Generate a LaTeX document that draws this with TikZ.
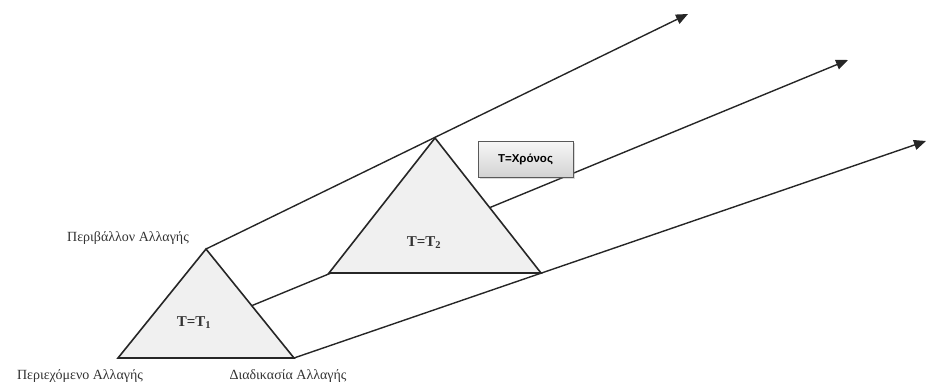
\documentclass[tikz,border=0pt]{standalone}
\usepackage{fontspec}
\setmainfont{Liberation Serif}
\newfontfamily\boxfont{Liberation Sans}
\usetikzlibrary{arrows.meta,shadows,calc}
\begin{document}
\begin{tikzpicture}[x=1pt,y=-1pt,
  conn/.style={draw=black!85, line width=1.4pt},
  arr/.style={conn,-{Triangle[length=12pt,width=10pt]}},
  tri/.style={draw=black!85, line width=1.6pt, fill=gray!12, line join=miter},
  lbl/.style={font=\fontsize{14}{14}\selectfont, text=black!80, inner sep=0pt},
  tlbl/.style={font=\fontsize{15}{15}\selectfont\bfseries, text=black!80, inner sep=0pt},
  timebox/.style={draw=black!65, line width=1pt, top color=gray!6, bottom color=gray!35,
    minimum width=95pt, minimum height=36pt, inner sep=0pt,
    font=\boxfont\bfseries\fontsize{11.5}{11.5}\selectfont,
    drop shadow={shadow xshift=2pt, shadow yshift=-2pt, opacity=0.3}}
]
\useasboundingbox (0,0) rectangle (928,383);
\coordinate (a1) at (206,249);
\coordinate (l1) at (118,358);
\coordinate (r1) at (294,358);
\coordinate (a2) at (435,138);
\coordinate (l2) at (329,273);
\coordinate (r2) at (541,273);
\coordinate (e1) at (688,14);
\coordinate (e2) at (848,60);
\coordinate (e3) at (926,141);
\coordinate (m1) at ($(a1)!0.52!(r1)$);
% connectors
\draw[arr] (a1) -- (e1);
\draw[arr] (m1) -- (e2);
\draw[arr] (r1) -- (e3);
% triangles
\draw[tri] (a1) -- (r1) -- (l1) -- cycle;
\draw[tri] (a2) -- (r2) -- (l2) -- cycle;
\node[tlbl] (t1) at (194,323) {T=T\textsubscript{1}};
\node[tlbl] (t2) at (424,243) {T=T\textsubscript{2}};
% time box
\node[timebox] (tb) at (525.5,159) {Τ=Χρόνος};
% labels
\node[lbl] (env) at (128,238) {Περιβάλλον Αλλαγής};
\node[lbl] (cont) at (80,376) {Περιεχόμενο Αλλαγής};
\node[lbl] (proc) at (288,376) {Διαδικασία Αλλαγής};
\end{tikzpicture}
\end{document}
